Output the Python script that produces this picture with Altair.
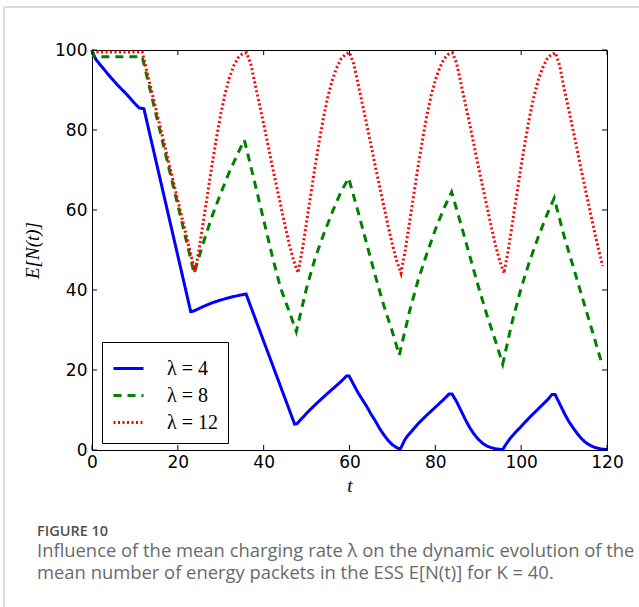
import altair as alt
import pandas as pd

# ---------------- data ----------------
series_names = ["λ = 4", "λ = 8", "λ = 12"]
series_colors = ["#0000ff", "#008000", "#ff0000"]

t_blue = [0, 0.5, 1, 2, 3, 4, 5, 6, 7, 8, 9, 10, 11, 11.6, 12.1,
          23.0, 23.6, 26, 28, 30, 32, 34, 35.9,
          47.2, 47.8, 50, 52, 54, 56, 58, 59.3, 59.9,
          61, 62, 63, 64, 65, 66, 67, 68, 69, 70, 71, 71.8,
          72.3, 72.8, 73.5, 74.5, 76, 78, 80, 82, 83.2, 83.9,
          85, 86, 87, 88, 89, 90, 91, 92, 93, 94, 95.7,
          96.2, 96.7, 97.5, 98.5, 100, 102, 104, 106, 107.2, 107.9,
          109, 110, 111, 112, 113, 114, 115, 116, 117, 118, 119, 120]
v_blue = [100, 98.5, 97.5, 96.2, 94.9, 93.6, 92.4, 91.2, 90.1, 89.0, 87.8, 86.6, 85.5, 85.4, 85.3,
          34.6, 34.7, 35.9, 36.8, 37.5, 38.1, 38.6, 39.0,
          6.5, 6.6, 9.2, 11.3, 13.3, 15.2, 17.1, 18.5, 18.5,
          16.3, 14.3, 12.6, 10.9, 9.0, 7.3, 5.4, 3.8, 2.4, 1.3, 0.6, 0.2,
          1.2, 2.4, 3.5, 4.7, 6.6, 8.7, 10.7, 12.7, 14.0, 14.0,
          12.0, 9.8, 7.6, 5.6, 4.0, 2.7, 1.7, 1.0, 0.6, 0.3, 0.1,
          1.0, 1.8, 3.0, 4.2, 5.9, 8.2, 10.3, 12.4, 13.9, 13.9,
          11.5, 9.3, 7.3, 5.7, 4.2, 2.9, 1.9, 1.2, 0.7, 0.4, 0.2, 0.1]

t_green = [0, 0.4, 1, 11.7, 23.8,
           26, 28, 30, 32, 34, 35.5,
           38, 40, 42, 44, 46, 47.6,
           50, 52, 54, 56, 58, 59.8,
           62, 64, 66, 68, 70, 71.6,
           74, 76, 78, 80, 82, 83.8,
           86, 88, 90, 92, 94, 95.7,
           98, 100, 102, 104, 106, 107.7,
           110, 112, 114, 116, 118, 119]
v_green = [100, 98.5, 98.3, 98.3, 44.2,
           52.0, 58.5, 64.2, 69.5, 74.2, 77.5,
           66.5, 57.5, 48.5, 40.3, 34.5, 29.6,
           40.5, 48.0, 54.0, 59.5, 64.5, 68.0,
           59.6, 51.6, 43.6, 36.1, 29.5, 23.7,
           34.7, 42.5, 49.0, 55.1, 60.4, 64.5,
           56.3, 48.6, 41.0, 33.8, 27.3, 21.5,
           32.5, 40.5, 47.3, 53.3, 58.8, 63.0,
           53.5, 46.3, 39.0, 31.8, 24.5, 21.0]

t_red = [0, 11.7,
         24, 25, 26, 27, 28, 29, 30, 31, 32, 33, 34, 35, 36,
         37, 38, 39, 40, 41, 42, 43, 44, 45, 46, 47, 48,
         49, 50, 51, 52, 53, 54, 55, 56, 57, 58, 59, 60,
         61, 62, 63, 64, 65, 66, 67, 68, 69, 70, 71, 72,
         73, 74, 75, 76, 77, 78, 79, 80, 81, 82, 83, 84,
         85, 86, 87, 88, 89, 90, 91, 92, 93, 94, 95, 96,
         97, 98, 99, 100, 101, 102, 103, 104, 105, 106, 107, 108,
         109, 110, 111, 112, 113, 114, 115, 116, 117, 118, 119]
v_red = [99.5, 99.5,
         44.5, 50.5, 57.5, 64.5, 71.5, 78.0, 84.0, 89.0, 93.0, 96.0, 98.0, 99.0, 99.3,
         96.5, 91.5, 86.5, 81.5, 76.3, 71.0, 66.0, 61.0, 56.0, 51.3, 47.3, 44.3,
         50.0, 57.0, 64.0, 71.0, 77.5, 83.5, 88.5, 92.5, 95.5, 97.7, 98.9, 99.4,
         96.5, 91.5, 86.5, 81.5, 76.3, 71.0, 66.0, 61.0, 56.0, 51.3, 47.3, 44.2,
         50.0, 57.0, 64.0, 71.0, 77.5, 83.5, 88.5, 92.5, 95.5, 97.7, 98.9, 99.3,
         96.5, 91.5, 86.5, 81.5, 76.3, 71.0, 66.0, 61.0, 56.0, 51.3, 47.3, 44.2,
         50.0, 57.0, 64.0, 71.0, 77.5, 83.5, 88.5, 92.5, 95.5, 97.7, 98.9, 99.3,
         96.0, 90.5, 85.5, 80.5, 75.3, 70.0, 65.0, 60.0, 55.0, 50.3, 46.0]

x_ticks = [0, 20, 40, 60, 80, 100, 120]
y_ticks = [0, 20, 40, 60, 80, 100]

caption_head = "FIGURE 10"
caption_lines = [
    "Influence of the mean charging rate λ on the dynamic evolution of the",
    "mean number of energy packets in the ESS E[N(t)] for K = 40.",
]

# ---------------- build table ----------------
rows = []
for name, ts, vs in zip(series_names, [t_blue, t_green, t_red], [v_blue, v_green, v_red]):
    for t, v in zip(ts, vs):
        rows.append({"t": t, "v": v, "series": name})
df = pd.DataFrame(rows)

W, H = 515, 400
xs = alt.Scale(domain=[0, 120], nice=False, zero=False)
ys = alt.Scale(domain=[0, 100], nice=False, zero=False)

axis_common = dict(format="d", domain=False, ticks=False, tickSize=0, grid=False,
                   labelFlush=False, labelFont="DejaVu Sans", labelFontSize=17,
                   labelColor="black", titleColor="black", titleFont="Liberation Serif",
                   titleFontStyle="italic", titleFontSize=19, titleFontWeight="normal")
x_axis = alt.Axis(values=x_ticks, title="t", titlePadding=6, labelPadding=4, **axis_common)
y_axis = alt.Axis(values=y_ticks, title="E[N(t)]", titlePadding=12, labelPadding=5, **axis_common)

legend_common = dict(
    title=None, orient="none", legendX=10, legendY=292,
    symbolType="stroke", symbolSize=900, symbolStrokeWidth=2,
    labelFont="Liberation Serif", labelFontSize=20, labelColor="black",
    labelOffset=22, fillColor="white", strokeColor="black",
    padding=10, rowPadding=0, cornerRadius=0,
)

lines = alt.Chart(df).mark_line().encode(
    x=alt.X("t:Q", scale=xs, axis=x_axis),
    y=alt.Y("v:Q", scale=ys, axis=y_axis),
    color=alt.Color("series:N", scale=alt.Scale(domain=series_names, range=series_colors),
                    legend=alt.Legend(**legend_common)),
    strokeDash=alt.StrokeDash("series:N",
                              scale=alt.Scale(domain=series_names, range=[[1, 0], [8, 6], [2, 2.5]]),
                              legend=alt.Legend(**legend_common)),
    strokeWidth=alt.StrokeWidth("series:N",
                                scale=alt.Scale(domain=series_names, range=[3, 3, 2.2]),
                                legend=None),
)

xt = pd.DataFrame({"t": x_ticks})
yt = pd.DataFrame({"v": y_ticks})
bottom_ticks = alt.Chart(xt).mark_rule(color="black", strokeWidth=1).encode(
    x=alt.X("t:Q", scale=xs, axis=x_axis), y=alt.value(H), y2=alt.value(H - 5))
top_ticks = alt.Chart(xt).mark_rule(color="black", strokeWidth=1).encode(
    x=alt.X("t:Q", scale=xs, axis=x_axis), y=alt.value(0), y2=alt.value(5))
left_ticks = alt.Chart(yt).mark_rule(color="black", strokeWidth=1).encode(
    y=alt.Y("v:Q", scale=ys, axis=y_axis), x=alt.value(0), x2=alt.value(5))
right_ticks = alt.Chart(yt).mark_rule(color="black", strokeWidth=1).encode(
    y=alt.Y("v:Q", scale=ys, axis=y_axis), x=alt.value(W), x2=alt.value(W - 5))

one = alt.Data(values=[{"k": 1}])
frame_top = alt.Chart(one).mark_rule(color="#cfcfcf", strokeWidth=1.5).encode(
    x=alt.value(-88), x2=alt.value(W + 40), y=alt.value(-43))
frame_left = alt.Chart(one).mark_rule(color="#cfcfcf", strokeWidth=1.5).encode(
    x=alt.value(-88), y=alt.value(-43), y2=alt.value(H + 200))

cap_head = alt.Chart(one).mark_text(
    align="left", baseline="alphabetic", font="Open Sans", fontSize=14.5,
    fontWeight=600, color="#505050"
).encode(x=alt.value(-55), y=alt.value(486), text=alt.value(caption_head))
cap_l1 = alt.Chart(one).mark_text(
    align="left", baseline="alphabetic", font="Open Sans", fontSize=18.4, color="#6a6a6a"
).encode(x=alt.value(-55), y=alt.value(507), text=alt.value(caption_lines[0]))
cap_l2 = alt.Chart(one).mark_text(
    align="left", baseline="alphabetic", font="Open Sans", fontSize=18.4, color="#6a6a6a"
).encode(x=alt.value(-55), y=alt.value(529), text=alt.value(caption_lines[1]))

chart = alt.layer(
    frame_top, frame_left, lines, bottom_ticks, top_ticks, left_ticks, right_ticks,
    cap_head, cap_l1, cap_l2
).properties(
    width=W, height=H,
    background="white",
    autosize=alt.AutoSizeParams(type="none"),
    padding={"left": 92, "top": 50, "right": 32, "bottom": 157},
).configure_view(
    stroke="black", strokeWidth=1
)

chart.save("out.html", embed_options={"renderer": "svg", "actions": False})
